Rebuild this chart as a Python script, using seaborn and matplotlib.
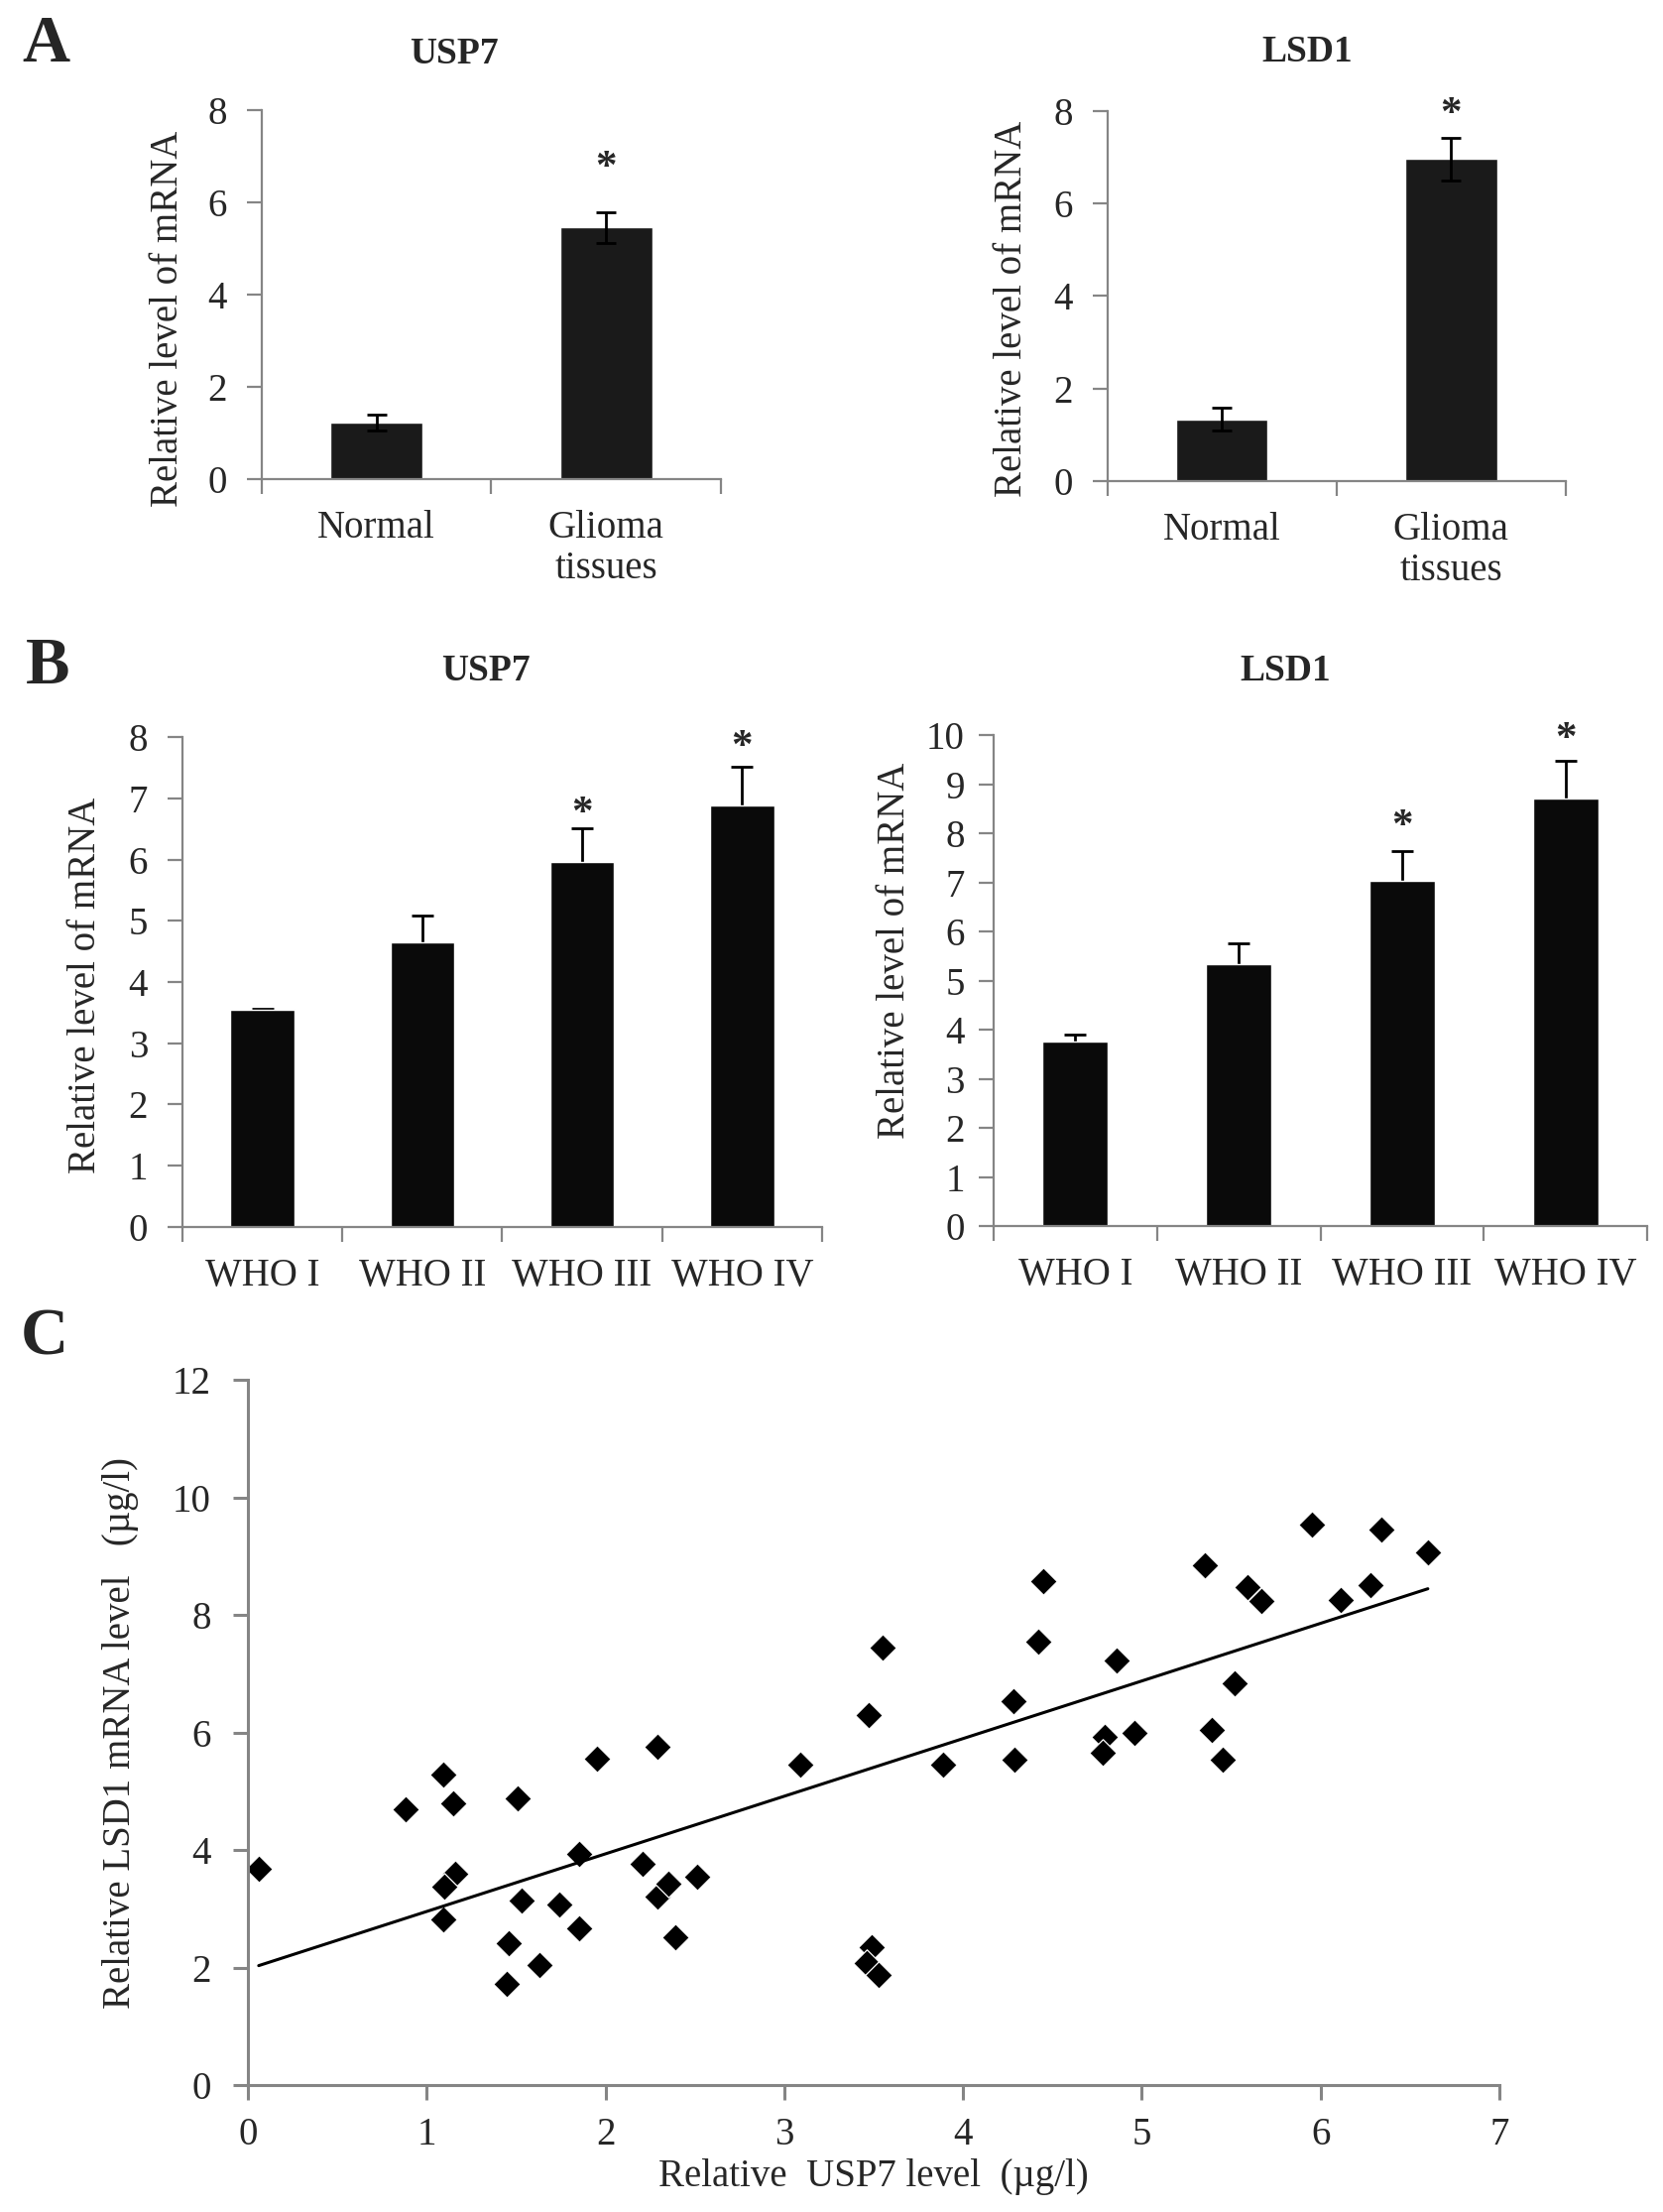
import numpy as np
import matplotlib
matplotlib.use("Agg")
import matplotlib.pyplot as plt
import matplotlib.transforms as mtransforms
import seaborn as sns

# Panel A: tissue comparison
a_cats = ["Normal", "Glioma\ntissues"]
a_usp7 = [1.22, 5.45]
a_usp7_err = [0.17, 0.33]
a_lsd1 = [1.34, 6.96]
a_lsd1_err = [0.24, 0.47]
a_usp7_star = [None, 6.9]
a_lsd1_star = [None, 8.1]

# Panel B: WHO grades
b_cats = ["WHO I", "WHO II", "WHO III", "WHO IV"]
b_usp7 = [3.54, 4.64, 5.96, 6.88]
b_usp7_err = [0.03, 0.45, 0.55, 0.64]
b_lsd1 = [3.75, 5.34, 7.03, 8.71]
b_lsd1_err = [0.15, 0.42, 0.61, 0.76]
b_usp7_star = [None, None, 6.87, 7.96]
b_lsd1_star = [None, None, 8.3, 10.06]

# Panel C: correlation
c_usp7 = [0.06, 0.88, 1.09, 1.15, 1.16, 1.10, 1.09, 1.51, 1.53, 1.46,
          1.45, 1.63, 1.74, 1.85, 1.85, 1.95, 2.21, 2.29, 2.29, 2.35,
          2.39, 2.51, 3.09, 3.47, 3.55, 3.49, 3.46, 3.53, 3.89, 4.45,
          4.42, 4.86, 4.28, 4.29, 4.79, 4.78, 4.96, 5.39, 5.45, 5.52,
          5.35, 5.59, 5.67, 5.95, 6.11, 6.28, 6.34, 6.60]
c_lsd1 = [3.68, 4.70, 5.28, 4.80, 3.60, 3.38, 2.82, 4.88, 3.14, 2.42,
          1.72, 2.04, 3.08, 2.67, 3.94, 5.56, 3.77, 5.75, 3.21, 3.42,
          2.51, 3.55, 5.45, 6.30, 7.45, 2.34, 2.07, 1.88, 5.45, 8.57,
          7.55, 7.23, 6.53, 5.54, 5.92, 5.66, 6.00, 6.04, 5.54, 6.84,
          8.85, 8.48, 8.24, 9.54, 8.26, 8.51, 9.46, 9.06]

sns.set_style("ticks")
plt.rcParams["font.family"] = ["Liberation Serif", "DejaVu Serif"]
plt.rcParams["font.size"] = 28

SPINE = "#858585"
FS = 28


def style_axis(ax, lw=1.6):
    for side in ["top", "right"]:
        ax.spines[side].set_visible(False)
    for side in ["left", "bottom"]:
        ax.spines[side].set_color(SPINE)
        ax.spines[side].set_linewidth(lw)
    ax.tick_params(axis="y", direction="out", length=11, width=lw,
                   color=SPINE, labelsize=FS, pad=14)


def bar_panel(ax, cats, vals, errs, stars, ymax, ystep, color, one_sided, cap):
    n = len(cats)
    sns.barplot(x=list(range(n)), y=vals, color=color, width=0.4,
                saturation=1, ax=ax, errorbar=None)
    if one_sided:
        # upper half only: draw behind the bars so the lower cap is hidden
        ax.errorbar(list(range(n)), vals, yerr=errs, fmt="none", ecolor="black",
                    elinewidth=2, capsize=cap, capthick=2, zorder=0.5)
    else:
        ax.errorbar(list(range(n)), vals, yerr=errs, fmt="none", ecolor="black",
                    elinewidth=2, capsize=cap, capthick=2, zorder=3)
    # nudge the asterisk glyph so its centre sits on the value
    star_tr = ax.transData + mtransforms.ScaledTranslation(0, -6 / 72,
                                                          ax.figure.dpi_scale_trans)
    for i, s in enumerate(stars):
        if s is not None:
            ax.text(i, s, "*", ha="center", va="center", fontsize=31,
                    fontweight="bold", transform=star_tr, clip_on=False)
    ax.set_xlim(-0.5, n - 0.5)
    ax.set_ylim(0, ymax)
    ax.set_yticks(np.arange(0, ymax + 0.01, ystep))
    ax.set_xticks(range(n))
    ax.set_xticklabels(cats, linespacing=1.15)
    ax.set_xticks(np.arange(-0.5, n, 1), minor=True)
    style_axis(ax)
    ax.tick_params(axis="x", which="major", length=0, labelsize=FS, pad=22)
    ax.tick_params(axis="x", which="minor", direction="out", length=11,
                   width=1.6, color=SPINE)
    ax.set_xlabel("")
    ax.set_ylabel("Relative level of mRNA", fontsize=FS)


fig = plt.figure(figsize=(16.77, 22.30), dpi=100)

# Panel A
ax1 = fig.add_axes([0.1574, 0.7834, 0.2761, 0.1670])
bar_panel(ax1, a_cats, a_usp7, a_usp7_err, a_usp7_star, 8, 2, "#1a1a1a", False, 7.5)
ax1.yaxis.set_label_coords(-0.165, 0.435)
ax2 = fig.add_axes([0.6658, 0.7825, 0.2757, 0.1673])
bar_panel(ax2, a_cats, a_lsd1, a_lsd1_err, a_lsd1_star, 8, 2, "#1a1a1a", False, 7.5)
ax2.yaxis.set_label_coords(-0.168, 0.466)

# Panel B
ax3 = fig.add_axes([0.1097, 0.4453, 0.3846, 0.2215])
bar_panel(ax3, b_cats, b_usp7, b_usp7_err, b_usp7_star, 8, 1, "#0a0a0a", True, 8)
ax3.yaxis.set_label_coords(-0.122, 0.494)
ax4 = fig.add_axes([0.5975, 0.4457, 0.3930, 0.2220])
bar_panel(ax4, b_cats, b_lsd1, b_lsd1_err, b_lsd1_star, 10, 1, "#0a0a0a", True, 8)
ax4.yaxis.set_label_coords(-0.123, 0.56)
ax4.tick_params(axis="y", pad=10)

# Panel C
ax5 = fig.add_axes([0.1491, 0.0574, 0.7525, 0.3188])
sns.regplot(x=c_usp7, y=c_lsd1, ci=None, marker="D", ax=ax5,
            scatter_kws=dict(s=195, color="black", edgecolors="white",
                             linewidths=0.9, alpha=1),
            line_kws=dict(color="black", lw=2.2))
ax5.set_xlim(0, 7)
ax5.set_ylim(0, 12)
ax5.set_xticks(range(0, 8))
ax5.set_yticks(range(0, 13, 2))
style_axis(ax5, lw=2.2)
ax5.tick_params(axis="y", pad=16)
ax5.tick_params(axis="x", direction="out", length=11, width=2.2,
                color=SPINE, labelsize=FS, pad=12)
ax5.set_xlabel("Relative  USP7 level  (\u00b5g/l)", fontsize=FS, labelpad=4)
ax5.set_ylabel("Relative LSD1 mRNA level   (\u00b5g/l)", fontsize=FS)
ax5.yaxis.set_label_coords(-0.087, 0.5)

# titles and panel letters
fig.text(458 / 1677, 1 - 55 / 2230, "USP7", ha="center", va="center",
         fontsize=27, fontweight="bold")
fig.text(1318 / 1677, 1 - 53 / 2230, "LSD1", ha="center", va="center",
         fontsize=27, fontweight="bold")
fig.text(490 / 1677, 1 - 676 / 2230, "USP7", ha="center", va="center",
         fontsize=27, fontweight="bold")
fig.text(1296 / 1677, 1 - 676 / 2230, "LSD1", ha="center", va="center",
         fontsize=27, fontweight="bold")
fig.text(22 / 1677, 1 - 62 / 2230, "A", ha="left", va="baseline",
         fontsize=48, fontweight="bold")
fig.text(26 / 1677, 1 - 689 / 2230, "B", ha="left", va="baseline",
         fontsize=48, fontweight="bold")
fig.text(21 / 1677, 1 - 1366 / 2230, "C", ha="left", va="baseline",
         fontsize=48, fontweight="bold")

fig.savefig("out.png", dpi=100, facecolor="white")
